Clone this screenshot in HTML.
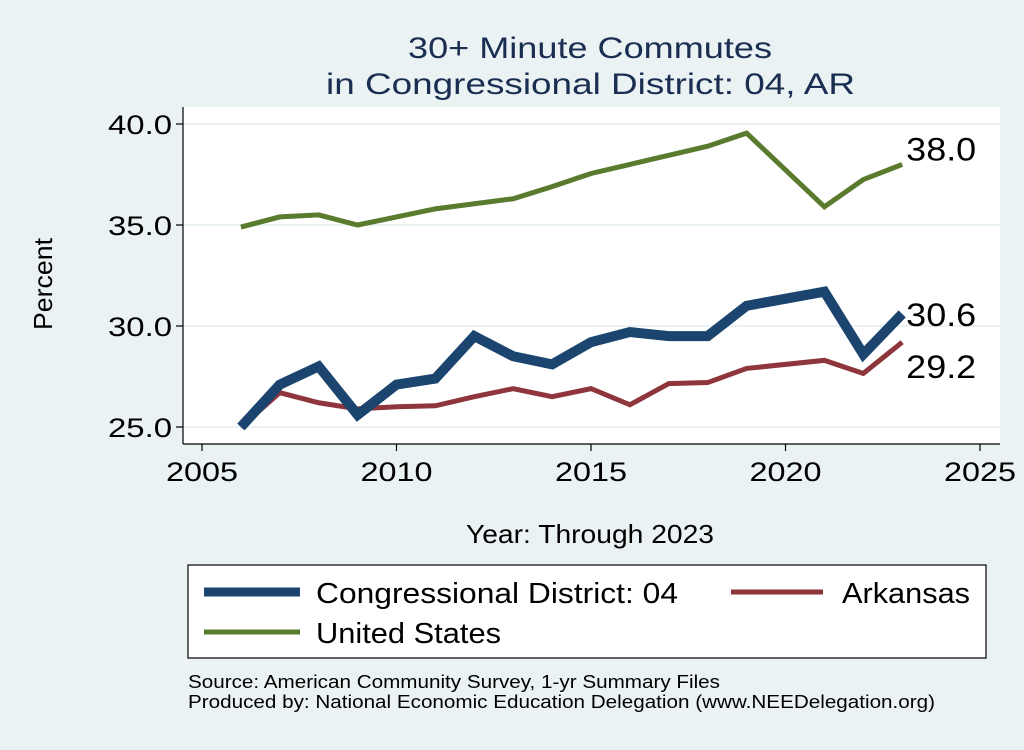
<!DOCTYPE html>
<html><head><meta charset="utf-8"><style>
body{margin:0;background:#eaf2f3;}
svg text{font-family:"Liberation Sans",sans-serif;}
</style></head><body>
<svg id="c" width="1024" height="745" viewBox="0 0 1024 745" xmlns="http://www.w3.org/2000/svg">
<rect width="1024" height="745" fill="#eaf2f3"/>
<text x="408" y="58" font-size="30" fill="#1a2e52" textLength="364" lengthAdjust="spacingAndGlyphs">30+ Minute Commutes</text>
<text x="326" y="94" font-size="30" fill="#1a2e52" textLength="529" lengthAdjust="spacingAndGlyphs">in Congressional District:  04, AR</text>
<rect x="183" y="107" width="817" height="337" fill="#fff"/>
<g id="grid"></g>
<g id="axes"></g>
<g id="series"></g>
<text x="52" y="284" font-size="26" fill="#000" text-anchor="middle" textLength="92" lengthAdjust="spacingAndGlyphs" transform="rotate(-90 52 284)">Percent</text>
<text x="466" y="543" font-size="26" fill="#000" textLength="248" lengthAdjust="spacingAndGlyphs">Year: Through 2023</text>
<g>
<rect x="188" y="565" width="798" height="93" fill="#fff" stroke="#000" stroke-width="1.2"/>
<line x1="204" y1="592" x2="300" y2="592" stroke="#1b456e" stroke-width="9"/>
<text x="316" y="603" font-size="29" textLength="362" lengthAdjust="spacingAndGlyphs">Congressional District:  04</text>
<line x1="731" y1="592" x2="823" y2="592" stroke="#8f363c" stroke-width="5"/>
<text x="842" y="603" font-size="29" textLength="128" lengthAdjust="spacingAndGlyphs">Arkansas</text>
<line x1="204" y1="632" x2="300" y2="632" stroke="#5a7a2e" stroke-width="5"/>
<text x="316" y="643" font-size="29" textLength="185" lengthAdjust="spacingAndGlyphs">United States</text>
</g>
<text x="188" y="688" font-size="18" textLength="532" lengthAdjust="spacingAndGlyphs">Source: American Community Survey, 1-yr Summary Files</text>
<text x="188" y="708" font-size="18" textLength="747" lengthAdjust="spacingAndGlyphs">Produced by: National Economic Education Delegation (www.NEEDelegation.org)</text>
</svg>
<script>
const years=[2006,2007,2008,2009,2010,2011,2012,2013,2014,2015,2016,2017,2018,2019,2021,2022,2023];
const districtVals=[25.0,27.1,28.0,25.6,27.1,27.4,29.5,28.5,28.1,29.2,29.7,29.5,29.5,31.0,31.7,28.6,30.6];
const arkansasVals=[25.0,26.7,26.2,25.9,26.0,26.05,26.5,26.9,26.5,26.9,26.1,27.15,27.2,27.9,28.3,27.65,29.2];
const usVals=[34.9,35.4,35.5,35.0,35.4,35.8,36.05,36.3,36.9,37.55,38.0,38.45,38.9,39.55,35.9,37.25,38.0];
const xTicks=[2005,2010,2015,2020,2025];
const yTicks=[25,30,35,40];
const yTickLabels=["25.0","30.0","35.0","40.0"];
const NS="http://www.w3.org/2000/svg";
const X=v=>202+(v-2005)*(980-202)/20;
const Y=v=>427-(v-25)*(427-124)/15;
function mk(t,a,p){const e=document.createElementNS(NS,t);for(const k in a)e.setAttribute(k,a[k]);p.appendChild(e);return e;}
const grid=document.getElementById('grid'),axes=document.getElementById('axes'),ser=document.getElementById('series');
yTicks.forEach((v,i)=>{
 const g=mk('line',{x1:183,x2:1000,y1:Y(v),y2:Y(v),stroke:'#eaf2f3','stroke-width':2},grid);
 
 
 const t=mk('line',{x1:176,x2:183,y1:Y(v),y2:Y(v),stroke:'#000','stroke-width':1.2},axes);
 
 
 const l=mk('text',{x:108,y:Y(v)+10,'font-size':27,textLength:64,lengthAdjust:'spacingAndGlyphs'},axes);
 l.textContent=yTickLabels[i];
 
 
});
xTicks.forEach(v=>{
 const t=mk('line',{x1:X(v),x2:X(v),y1:444,y2:451,stroke:'#000','stroke-width':1.2},axes);
 
 
 const l=mk('text',{x:X(v)-36,y:481,'font-size':27,textLength:72,lengthAdjust:'spacingAndGlyphs'},axes);
 l.textContent=v;
 
 
});
const ya=mk('line',{x1:183,x2:183,y1:107,y2:444,stroke:'#000','stroke-width':1.2},axes);


const xa=mk('line',{x1:183,x2:1000,y1:444,y2:444,stroke:'#000','stroke-width':1.2},axes);


function line(vals,color,w,name,labelDy){
 const pts=years.map((y,i)=>X(y)+','+Y(vals[i])).join(' ');
 const p=mk('polyline',{points:pts,fill:'none',stroke:color,'stroke-width':w,'stroke-linejoin':'miter'},ser);
 
 
 const lv=vals[vals.length-1];
 const t=mk('text',{x:X(years[years.length-1])+4,y:Y(lv)+labelDy,'font-size':32,textLength:70,lengthAdjust:'spacingAndGlyphs'},ser);
 t.textContent=lv.toFixed(1);
 
 
}
line(usVals,'#5a7a2e',5,'us',-4);
line(arkansasVals,'#8f363c',5,'arkansas',36);
line(districtVals,'#1b456e',10,'district',12);
</script>
</body></html>
